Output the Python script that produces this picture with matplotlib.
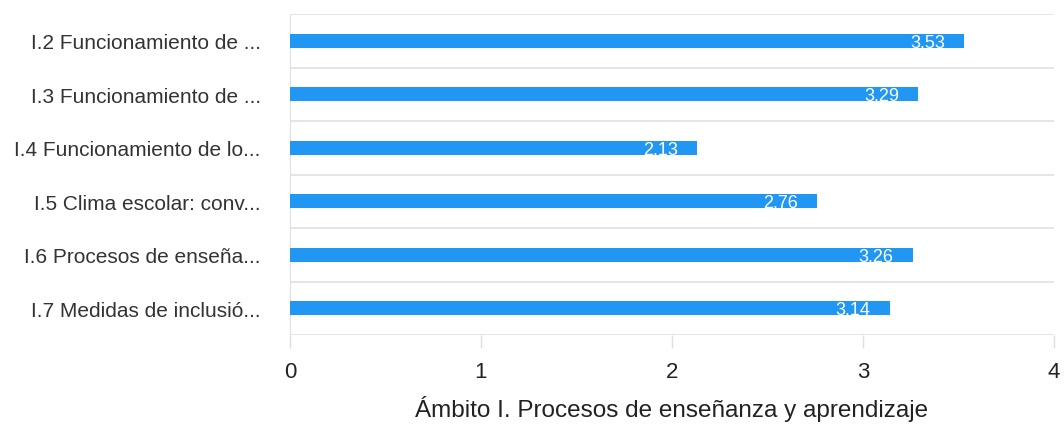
import matplotlib
matplotlib.use("Agg")
import matplotlib.pyplot as plt
import numpy as np

plt.rcParams['font.family'] = ['Liberation Sans', 'DejaVu Sans']

# Data
categories = ["I.2 Funcionamiento de ...", "I.3 Funcionamiento de ...",
              "I.4 Funcionamiento de lo...", "I.5 Clima escolar: conv...",
              "I.6 Procesos de enseña...", "I.7 Medidas de inclusió..."]
values = [3.53, 3.29, 2.13, 2.76, 3.26, 3.14]
x_ticks = [0, 1, 2, 3, 4]
x_title = "Ámbito I. Procesos de enseñanza y aprendizaje"

bar_color = "#2196F3"
grid_color = "#e0e0e0"

fig = plt.figure(figsize=(10.64, 4.27), dpi=100)
ax = fig.add_axes([290 / 1064, 1 - 336 / 427, 764 / 1064, 321 / 427])

pos = np.arange(len(categories))
ax.barh(pos, values, height=0.27, color=bar_color, zorder=3)

for p, v in zip(pos, values):
    ax.text(v - 0.1, p + 0.03, f"{v:.2f}", color="white", fontsize=13,
            ha="right", va="center", zorder=4)

ax.set_xlim(0, 4)
ax.set_ylim(len(categories) - 0.5, -0.5)

# horizontal separators between bands
for b in np.arange(-0.5, len(categories), 1.0):
    ax.axhline(b, color=grid_color, lw=1.2, zorder=1)

ax.set_yticks(pos)
ax.set_yticklabels(categories, fontsize=15, color="#333333")
ax.tick_params(axis="y", length=0, pad=21)

ax.set_xticks(x_ticks)
ax.set_xticklabels([str(t) for t in x_ticks], fontsize=16, color="#222222")
ax.tick_params(axis="x", length=9, width=1, color=grid_color, pad=10)

for s in ["top", "right", "bottom"]:
    ax.spines[s].set_visible(False)
ax.spines["left"].set_color(grid_color)
ax.spines["left"].set_bounds(len(categories) - 0.5 + 0.22, -0.5)

ax.set_xlabel(x_title, fontsize=17.5, color="#222222", labelpad=9)

fig.savefig("out.png", dpi=100)
